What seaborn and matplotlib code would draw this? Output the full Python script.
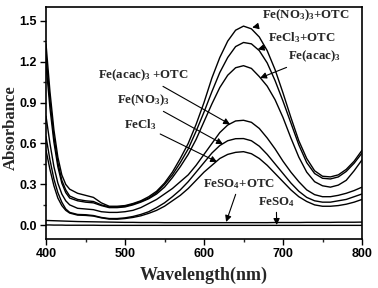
import numpy as np
import pandas as pd
import matplotlib
matplotlib.use("Agg")
import matplotlib.pyplot as plt
from matplotlib.ticker import MultipleLocator, FormatStrFormatter
import seaborn as sns

# wavelength grid (nm)
wavelength = [400, 405, 410, 415, 420, 425, 430, 440, 450, 460, 470, 480, 490, 500,
              510, 520, 530, 540, 550, 560, 570, 580, 590, 600, 610, 620, 630, 640,
              650, 660, 670, 680, 690, 700, 710, 720, 730, 740, 750, 760, 770, 780,
              790, 800]

fe_no3_otc = [1.33, 0.98, 0.70, 0.50, 0.37, 0.30, 0.265,
              0.235, 0.22, 0.205, 0.165, 0.14, 0.14, 0.145, 0.16, 0.18, 0.21, 0.25,
              0.31, 0.39, 0.49, 0.60, 0.74, 0.90, 1.08, 1.23, 1.35, 1.43, 1.46, 1.44,
              1.38, 1.28, 1.14, 0.97, 0.79, 0.62, 0.49, 0.40, 0.36, 0.355, 0.37, 0.41,
              0.47, 0.55]
fecl3_otc = [1.25, 0.92, 0.65, 0.46, 0.33, 0.26, 0.215,
             0.19, 0.18, 0.175, 0.15, 0.135, 0.135, 0.14, 0.155, 0.175, 0.20, 0.24,
             0.30, 0.37, 0.46, 0.56, 0.69, 0.83, 0.98, 1.12, 1.23, 1.31, 1.34, 1.33,
             1.28, 1.19, 1.06, 0.91, 0.75, 0.59, 0.46, 0.38, 0.345, 0.34, 0.355, 0.395,
             0.455, 0.53]
fe_acac = [1.18, 0.86, 0.61, 0.43, 0.31, 0.24, 0.20,
           0.18, 0.17, 0.165, 0.145, 0.13, 0.13, 0.135, 0.15, 0.17, 0.195, 0.23,
           0.28, 0.35, 0.43, 0.52, 0.63, 0.76, 0.89, 1.01, 1.10, 1.155, 1.17, 1.15,
           1.09, 1.02, 0.92, 0.79, 0.64, 0.50, 0.39, 0.32, 0.29, 0.28, 0.295, 0.33,
           0.40, 0.48]
fe_acac_otc = [0.80, 0.60, 0.43, 0.31, 0.23, 0.18, 0.15,
               0.125, 0.12, 0.115, 0.10, 0.095, 0.095, 0.10, 0.11, 0.13, 0.16, 0.19,
               0.23, 0.27, 0.32, 0.37, 0.44, 0.52, 0.60, 0.68, 0.735, 0.765, 0.77, 0.755,
               0.71, 0.64, 0.56, 0.47, 0.39, 0.32, 0.26, 0.225, 0.21, 0.21, 0.22, 0.235,
               0.255, 0.28]
fe_no3 = [0.65, 0.48, 0.34, 0.24, 0.17, 0.12, 0.095,
          0.08, 0.078, 0.072, 0.058, 0.05, 0.05, 0.055, 0.065, 0.08, 0.10, 0.13,
          0.165, 0.21, 0.26, 0.32, 0.39, 0.46, 0.53, 0.585, 0.62, 0.635, 0.636, 0.62,
          0.58, 0.52, 0.45, 0.38, 0.31, 0.25, 0.205, 0.18, 0.17, 0.17, 0.18, 0.19,
          0.21, 0.23]
fecl3 = [0.55, 0.41, 0.29, 0.20, 0.145, 0.11, 0.09,
         0.075, 0.073, 0.068, 0.055, 0.046, 0.045, 0.05, 0.058, 0.07, 0.088, 0.11,
         0.14, 0.18, 0.22, 0.27, 0.33, 0.39, 0.44, 0.49, 0.52, 0.535, 0.54, 0.525,
         0.49, 0.44, 0.38, 0.32, 0.26, 0.21, 0.175, 0.15, 0.14, 0.14, 0.145, 0.155,
         0.17, 0.19]
feso4_otc = [0.036, 0.035, 0.034, 0.033, 0.032, 0.031, 0.030,
             0.028, 0.027, 0.026, 0.025, 0.024, 0.023, 0.022, 0.022, 0.021, 0.021, 0.021,
             0.020, 0.020, 0.020, 0.020, 0.020, 0.020, 0.020, 0.020, 0.020, 0.020, 0.020, 0.020,
             0.020, 0.020, 0.021, 0.021, 0.021, 0.021, 0.022, 0.022, 0.022, 0.022, 0.023, 0.023,
             0.023, 0.024]
feso4 = [0.003, 0.003, 0.002, 0.002, 0.002, 0.001, 0.001,
         0.001, 0.001, 0.001, 0.0, 0.0, 0.0, 0.0, 0.0, 0.0, 0.0, 0.0,
         0.0, 0.0, 0.0, 0.0, 0.0, 0.0, 0.0, 0.0, 0.0, 0.0, 0.0, 0.0,
         0.0, 0.0, 0.0, 0.0, 0.0, 0.0, 0.0, 0.0, 0.0, 0.0, 0.0, 0.0,
         0.0, 0.0]

series = {
    "Fe(NO3)3+OTC": fe_no3_otc,
    "FeCl3+OTC": fecl3_otc,
    "Fe(acac)3": fe_acac,
    "Fe(acac)3 +OTC": fe_acac_otc,
    "Fe(NO3)3": fe_no3,
    "FeCl3": fecl3,
    "FeSO4+OTC": feso4_otc,
    "FeSO4": feso4,
}
df = pd.concat([pd.DataFrame({"wavelength": wavelength, "absorbance": v, "sample": k})
                for k, v in series.items()], ignore_index=True)

sns.set_style("ticks")
plt.rcParams["font.family"] = ["Liberation Sans", "DejaVu Sans"]
plt.rcParams["mathtext.default"] = "regular"

fig = plt.figure(figsize=(3.78, 2.88), dpi=100)
ax = fig.add_axes([0.1217, 0.1701, 0.836, 0.8056])

sns.lineplot(data=df, x="wavelength", y="absorbance", units="sample", estimator=None,
             color="black", lw=1.0, ax=ax)

ax.set_xlim(400, 800)
ax.set_ylim(-0.1, 1.6)
ax.xaxis.set_major_locator(MultipleLocator(100))
ax.xaxis.set_minor_locator(MultipleLocator(50))
ax.yaxis.set_major_locator(MultipleLocator(0.3))
ax.yaxis.set_minor_locator(MultipleLocator(0.15))
ax.yaxis.set_major_formatter(FormatStrFormatter("%.1f"))
ax.tick_params(which="major", direction="out", length=4, width=1.0, labelsize=9, pad=2.5,
               colors="black")
ax.tick_params(which="minor", direction="out", length=2.5, width=1.0)
for lab in ax.get_xticklabels() + ax.get_yticklabels():
    lab.set_fontweight("bold")
for s in ax.spines.values():
    s.set_linewidth(1.2)
    s.set_color("black")

serif = dict(family="Liberation Serif", fontweight="bold")
ax.set_xlabel("Wavelength(nm)", fontsize=13, labelpad=5, **serif)
ax.set_ylabel("Absorbance", fontsize=12, **serif)
ax.yaxis.set_label_coords(-0.0848, 0.48)

arrow = dict(arrowstyle="-|>,head_length=0.4,head_width=0.2", color="black", lw=0.8,
             shrinkA=0, shrinkB=0)
notes = [
    ("Fe(NO$_3$)$_3$+OTC", (661, 1.45), (673, 1.538)),
    ("FeCl$_3$+OTC", (668, 1.29), (681, 1.377)),
    ("Fe(acac)$_3$", (671, 1.08), (706, 1.238)),
    ("Fe(acac)$_3$ +OTC", (633, 0.74), (466, 1.099)),
    ("Fe(NO$_3$)$_3$", (624, 0.595), (490, 0.916)),
    ("FeCl$_3$", (616.5, 0.465), (499, 0.74)),
    ("FeSO$_4$+OTC", (628, 0.025), (599, 0.302)),
    ("FeSO$_4$", (692, 0.003), (668, 0.17)),
]
for txt, xy, xyt in notes:
    ax.annotate(txt, xy=xy, xytext=xyt, ha="left", va="center", fontsize=9.3,
                arrowprops=arrow, **serif)

fig.savefig("out.png", dpi=100)
